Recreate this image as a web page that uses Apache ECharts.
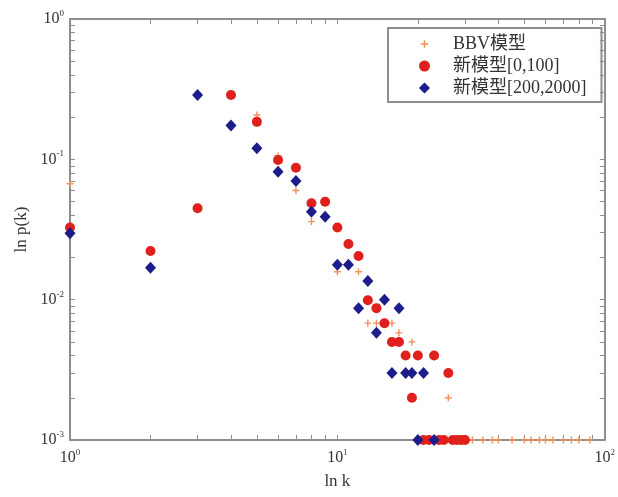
<!DOCTYPE html>
<html>
<head>
<meta charset="utf-8">
<script src="https://cdn.jsdelivr.net/npm/echarts@6/dist/echarts.min.js"></script>
<style>html,body{margin:0;padding:0;background:#fff;}#c{width:618px;height:497px;}</style>
</head>
<body>
<div id="c"></div>
<script>
// ---- data ----
const seriesNames = ['BBV模型', '新模型[0,100]', '新模型[200,2000]'];
const bbvK = [1, 2, 3, 4, 5, 6, 7, 8, 10, 12, 13, 14, 16, 17, 19, 26, 32, 35, 38, 40, 45, 50, 53, 57, 60, 64, 70, 75, 80, 88];
const bbvP = [0.067, 0.022, 0.045, 0.29, 0.207, 0.106, 0.060, 0.036, 0.0158, 0.0158, 0.0068, 0.0068, 0.0068, 0.0058, 0.005, 0.002, 0.001, 0.001, 0.001, 0.001, 0.001, 0.001, 0.001, 0.001, 0.001, 0.001, 0.001, 0.001, 0.001, 0.001];
const smallK = [1, 2, 3, 4, 5, 6, 7, 8, 9, 10, 11, 12, 13, 14, 15, 16, 17, 18, 19, 20, 21, 22, 23, 24, 25, 26, 27, 28, 29, 30];
const smallP = [0.0327, 0.0222, 0.0448, 0.287, 0.185, 0.099, 0.087, 0.0486, 0.0499, 0.0327, 0.0249, 0.0205, 0.0099, 0.0087, 0.0068, 0.005, 0.005, 0.004, 0.002, 0.004, 0.001, 0.001, 0.004, 0.001, 0.001, 0.003, 0.001, 0.001, 0.001, 0.001];
const largeK = [1, 2, 3, 4, 5, 6, 7, 8, 9, 10, 11, 12, 13, 14, 15, 16, 17, 18, 19, 20, 21, 23];
const largeP = [0.0297, 0.0169, 0.287, 0.174, 0.120, 0.0816, 0.070, 0.0424, 0.039, 0.0177, 0.0177, 0.0087, 0.0136, 0.0058, 0.0100, 0.003, 0.0087, 0.003, 0.003, 0.001, 0.003, 0.001];
const xTicks = [1, 2, 3, 4, 5, 6, 7, 8, 9, 10, 20, 30, 40, 50, 60, 70, 80, 90, 100];
const xLabels = [1, 10, 100];
const yTicks = [0.001, 0.002, 0.003, 0.004, 0.005, 0.006, 0.007, 0.008, 0.009, 0.01, 0.02, 0.03, 0.04, 0.05, 0.06, 0.07, 0.08, 0.09, 0.1, 0.2, 0.3, 0.4, 0.5, 0.6, 0.7, 0.8, 0.9, 1];
const yLabels = [0.001, 0.01, 0.1, 1];

const zip = (a, b) => a.map((v, i) => [v, b[i]]);
const serif = "'Liberation Serif','Noto Sans CJK SC',serif";
const frame = { lineStyle: { color: '#8e8e8e', width: 2 } };
const supFmt = v => '{b|10}{s|' + Math.round(Math.log10(v)) + '}';
const richTxt = {
  b: { fontSize: 16, fontFamily: serif, color: '#333', lineHeight: 20 },
  s: { fontSize: 9, fontFamily: serif, color: '#333', verticalAlign: 'top', lineHeight: 20, padding: [0, 0, 10, 0] }
};
const plusPath = 'path://M0,0M10,10M4.3,1.5h1.4v2.8h2.8v1.4h-2.8v2.8h-1.4v-2.8h-2.8v-1.4h2.8z';

const chart = echarts.init(document.getElementById('c'), null, { renderer: 'canvas' });
chart.setOption({
  animation: false,
  backgroundColor: '#fff',
  grid: { left: 70, right: 10, top: 19, bottom: 57 },
  legend: {
    orient: 'vertical', left: 388, top: 28,
    padding: [6, 15, 4, 31],
    itemWidth: 11, itemHeight: 11, itemGap: 2,
    borderColor: '#8e8e8e', borderWidth: 2, borderRadius: 0,
    textStyle: { fontSize: 18, fontFamily: serif, color: '#333', lineHeight: 20, padding: [0, 0, 0, 18] },
    data: seriesNames
  },
  xAxis: [{
    type: 'log', logBase: 10, min: 1, max: 100, position: 'bottom',
    axisLine: frame, splitLine: { show: false },
    axisTick: { inside: true, length: 5, customValues: xTicks, lineStyle: { color: '#8e8e8e' } },
    axisLabel: { customValues: xLabels, formatter: supFmt, rich: richTxt, margin: 8 },
    name: 'ln k', nameLocation: 'middle', nameGap: 33,
    nameTextStyle: { fontSize: 17, fontFamily: serif, color: '#333' }
  }, {
    type: 'log', logBase: 10, min: 1, max: 100, position: 'top',
    axisLine: frame, splitLine: { show: false },
    axisTick: { inside: true, length: 5, customValues: xTicks, lineStyle: { color: '#8e8e8e' } },
    axisLabel: { show: false }
  }],
  yAxis: [{
    type: 'log', logBase: 10, min: 0.001, max: 1, position: 'left',
    axisLine: frame, splitLine: { show: false },
    axisTick: { inside: true, length: 5, customValues: yTicks, lineStyle: { color: '#8e8e8e' } },
    axisLabel: { customValues: yLabels, formatter: supFmt, rich: richTxt, margin: 6 },
    name: 'ln p(k)', nameLocation: 'middle', nameGap: 40, nameRotate: 90,
    nameTextStyle: { fontSize: 17, fontFamily: serif, color: '#333' }
  }, {
    type: 'log', logBase: 10, min: 0.001, max: 1, position: 'right',
    axisLine: frame, splitLine: { show: false },
    axisTick: { inside: true, length: 5, customValues: yTicks, lineStyle: { color: '#8e8e8e' } },
    axisLabel: { show: false }
  }],
  series: [{
    name: seriesNames[0], type: 'scatter', xAxisIndex: 0, yAxisIndex: 0,
    symbol: plusPath, symbolSize: 10,
    itemStyle: { color: '#f0925e', opacity: 1 },
    data: zip(bbvK, bbvP), z: 2
  }, {
    name: seriesNames[1], type: 'scatter', xAxisIndex: 0, yAxisIndex: 0,
    symbol: 'circle', symbolSize: 10,
    itemStyle: { color: '#e0201c', opacity: 1 },
    data: zip(smallK, smallP), z: 3
  }, {
    name: seriesNames[2], type: 'scatter', xAxisIndex: 0, yAxisIndex: 0,
    symbol: 'diamond', symbolSize: [11, 12],
    itemStyle: { color: '#1c1c8a', opacity: 1 },
    data: zip(largeK, largeP), z: 4
  }]
});
</script>
</body>
</html>
